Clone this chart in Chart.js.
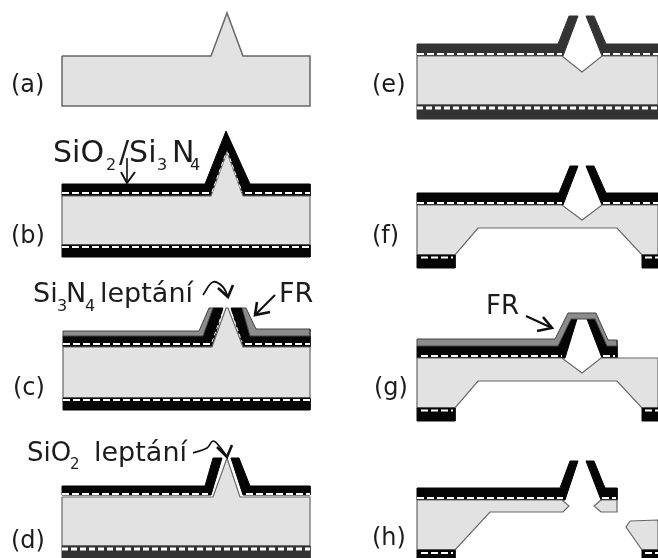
<!DOCTYPE html>
<html>
<head>
<meta charset="utf-8">
<script src="https://cdn.jsdelivr.net/npm/chart.js@4"></script>
<style>
html, body { margin: 0; padding: 0; background: #fff; overflow: hidden; }
canvas { display: block; filter: blur(0.4px); }
</style>
</head>
<body>
<canvas id="c" width="658" height="558"></canvas>
<script>
// all points are [x, y] in picture units, the scales run 0-658 and 0-558

// (a)
const aBody = [[62,56],[211,56],[227,13],[243,56],[310,56],[310,106],[62,106]];

// (b)
const bOxide = [[62,184],[205,184],[226,131],[250,184],[310,184],[310,196],[243,196],[227,150],[211,196],[62,196]];
const bBody = [[62,196],[211,196],[227,152],[243,196],[310,196],[310,245],[62,245]];
const bDashL = [[62,193],[209,193]];
const bDashPeak = [[212,192],[226,153],[228,153],[242,192]];
const bDashR = [[245,193],[310,193]];
const bOxideLow = [[62,245],[310,245],[310,257],[62,257]];
const bDashLow = [[62,247],[310,247]];

// (c)
const cOxideL = [[63,336],[202,336],[213,308],[223,308],[212,347],[63,347]];
const cOxideR = [[231,308],[242,308],[250,336],[310,336],[310,347],[243,347]];
const cResistL = [[63,331],[199,331],[209,308],[213,308],[203,336],[63,336]];
const cResistR = [[242,308],[246,308],[256,329],[310,329],[310,336],[250,336]];
const cBody = [[63,347],[212,347],[226,308],[228,308],[243,347],[310,347],[310,398],[63,398]];
const cDashL = [[63,344],[210,344]];
const cSlopeL = [[212,342],[222,314]];
const cSlopeR = [[232,314],[242,342]];
const cDashR = [[245,344],[310,344]];
const cOxideLow = [[63,398],[310,398],[310,410],[63,410]];
const cDashLow = [[63,400],[310,400]];

// (d)
const dOxideL = [[62,486],[205,486],[213,458],[222,458],[211,495],[62,495]];
const dOxideR = [[231,458],[239,458],[250,486],[310,486],[310,495],[243,495]];
const dBody = [[62,497],[213,497],[227,458],[240,497],[310,497],[310,546],[62,546]];
const dDashTop = [[62,494],[208,494]];
const dDashTopR = [[246,494],[310,494]];
const dOxideLow = [[62,546],[310,546],[310,558],[62,558]];
const dDashLow = [[62,549],[310,549]];

// (e)
const eOxideL = [[417,44],[558,44],[569,16],[578,16],[563,56],[417,56]];
const eOxideR = [[586,16],[594,16],[606,44],[658,44],[658,56],[602,56]];
const eBody = [[417,56],[562,56],[582,72],[602,56],[658,56],[658,105],[417,105]];
const eDashL = [[417,54],[562,54]];
const eDashR = [[603,54],[658,54]];
const eOxideLow = [[417,105],[658,105],[658,119],[417,119]];
const eDashLow = [[417,108],[658,108]];

// (f)
const fOxideL = [[417,193],[559,193],[570,166],[578,166],[563,205],[417,205]];
const fOxideR = [[586,166],[594,166],[606,193],[658,193],[658,205],[602,205]];
const fBody = [[417,205],[562,205],[582,220],[602,205],[658,205],[658,255],[642,255],[617,228],[478,228],[455,255],[417,255]];
const fDashL = [[417,203],[562,203]];
const fDashR = [[603,203],[658,203]];
const fFootL = [[417,255],[455,255],[455,268],[417,268]];
const fFootR = [[642,255],[658,255],[658,268],[642,268]];
const fDashFootL = [[421,257.5],[453,257.5]];
const fDashFootR = [[645,257.5],[658,257.5]];

// (g)
const gOxideL = [[417,346],[558,346],[571,319],[577,319],[565,358],[417,358]];
const gOxideR = [[587,319],[595,319],[607,346],[617,346],[617,358],[602,358]];
const gResist = [[417,339],[555,339],[568,313],[596,313],[608,340],[617,340],[617,346],[607,346],[595,319],[571,319],[558,346],[417,346]];
const gBody = [[417,358],[562,358],[582,373],[601,358],[658,358],[658,408],[642,408],[617,381],[478,381],[455,408],[417,408]];
const gDashL = [[421,356],[562,356]];
const gDashR = [[603,356],[615,356]];
const gFootL = [[417,408],[455,408],[455,421],[417,421]];
const gFootR = [[642,408],[658,408],[658,421],[642,421]];
const gDashFootL = [[421,410.5],[453,410.5]];
const gDashFootR = [[645,410.5],[658,410.5]];

// (h)
const hOxideL = [[417,488],[560,488],[570,461],[578,461],[565,500],[417,500]];
const hOxideR = [[586,461],[594,461],[605,488],[617,488],[617,500],[601,500]];
const hBodyL = [[417,500],[562,500],[569,506],[563,512],[490,512],[455,550],[417,550]];
const hBodyM = [[601,500],[617,500],[617,512],[601,512],[594,506]];
const hBodyR = [[630,521],[658,520],[658,550],[642,550],[626,527]];
const hDashL = [[417,498],[563,498]];
const hDashR = [[602,498],[616,498]];
const hFootL = [[417,550],[455,550],[455,558],[417,558]];
const hFootR = [[642,550],[658,550],[658,558],[642,558]];
const hDashFootL = [[421,553],[453,553]];
const hDashFootR = [[645,553],[658,553]];

// arrows
const arrowB = [[127,158],[127,183]];
const arrowBHead = [[121,172],[127,183],[135,172]];
const arrowCFr = [[275,295],[255,315]];
const arrowCFrHead = [[257,302],[255,315],[270,312]];
const arrowCEtch = [[203,295],[213,282],[223,287],[228,297]];
const arrowCEtchHead = [[218,288],[228,297],[233,285]];
const arrowDEtch = [[193,453],[207,448],[213,441],[220,447],[227,457]];
const arrowDEtchHead = [[217,447],[227,457],[232,445]];
const arrowGFr = [[526,316],[552,328]];
const arrowGFrHead = [[543,317],[552,328],[537,331]];

// text, x, baseline y, size
const labels = [
  ['(a)', 11, 92, 24], ['(b)', 11, 243, 24], ['(c)', 13, 395, 24], ['(d)', 11, 548, 24],
  ['(e)', 372, 92, 24], ['(f)', 372, 243, 24], ['(g)', 374, 395, 24], ['(h)', 372, 545, 24],
  ['SiO', 53, 162, 30], ['2', 106, 170, 16], ['/Si', 119, 162, 30], ['3', 157, 170, 16], ['N', 172, 162, 30], ['4', 190, 170, 16],
  ['Si', 33, 302, 27], ['3', 57, 311, 16], ['N', 66, 302, 27], ['4', 85, 311, 16], ['leptání', 100, 302, 27],
  ['FR', 279, 302, 27],
  ['SiO', 27, 461, 26], ['2', 70, 469, 15], ['leptání', 94, 461, 27],
  ['FR', 486, 314, 26]
];

const BODY = '#e2e2e2', EDGE = '#666', BLACK = '#050505', DARK = '#333', RESIST = '#8c8c8c';
const layers = [];

const shape = (pts, fillCol, edgeCol = fillCol, w = 1) => layers.push({
  data: pts.concat([pts[0]]).map(([x, y]) => ({ x, y })),
  showLine: true, fill: 'shape', backgroundColor: fillCol, borderColor: edgeCol, borderWidth: w,
  pointRadius: 0, tension: 0
});
const dash = (pts, w = 2, d = [7, 3]) => layers.push({
  data: pts.map(([x, y]) => ({ x, y })),
  showLine: true, fill: false, borderColor: '#fff', borderWidth: w, borderDash: d,
  pointRadius: 0, tension: 0
});
const stroke = (pts, w = 2, tension = 0) => layers.push({
  data: pts.map(([x, y]) => ({ x, y })),
  showLine: true, fill: false, borderColor: '#111', borderWidth: w,
  pointRadius: 0, tension
});

shape(aBody, BODY, EDGE, 1.5);

shape(bOxide, BLACK);
shape(bBody, BODY, EDGE, 1.2);
dash(bDashL); dash(bDashR); dash(bDashPeak, 1, [4, 3]);
shape(bOxideLow, BLACK);
dash(bDashLow);

shape(cOxideL, BLACK); shape(cOxideR, BLACK);
shape(cBody, BODY, EDGE, 1.2);
shape(cResistL, RESIST, '#444', 1); shape(cResistR, RESIST, '#444', 1);
dash(cDashL); dash(cDashR);
dash(cSlopeL, 1, [4, 3]); dash(cSlopeR, 1, [4, 3]);
shape(cOxideLow, BLACK);
dash(cDashLow);

shape(dOxideL, BLACK); shape(dOxideR, BLACK);
shape(dBody, BODY, EDGE, 1.2);
dash(dDashTop); dash(dDashTopR);
shape(dOxideLow, DARK);
dash(dDashLow, 3, [6, 3]);

shape(eOxideL, DARK); shape(eOxideR, DARK);
shape(eBody, BODY, EDGE, 1.2);
dash(eDashL); dash(eDashR);
shape(eOxideLow, DARK);
dash(eDashLow, 3, [6, 3]);

shape(fOxideL, BLACK); shape(fOxideR, BLACK);
shape(fBody, BODY, EDGE, 1.2);
dash(fDashL); dash(fDashR);
shape(fFootL, BLACK); shape(fFootR, BLACK);
dash(fDashFootL); dash(fDashFootR);

shape(gOxideL, BLACK); shape(gOxideR, BLACK);
shape(gResist, RESIST, '#444', 1);
shape(gBody, BODY, EDGE, 1.2);
dash(gDashL); dash(gDashR);
shape(gFootL, BLACK); shape(gFootR, BLACK);
dash(gDashFootL); dash(gDashFootR);

shape(hOxideL, BLACK); shape(hOxideR, BLACK);
shape(hBodyL, BODY, EDGE, 1.2); shape(hBodyM, BODY, EDGE, 1.2); shape(hBodyR, BODY, EDGE, 1.2);
dash(hDashL); dash(hDashR);
shape(hFootL, BLACK); shape(hFootR, BLACK);
dash(hDashFootL); dash(hDashFootR);

stroke(arrowB, 1.6); stroke(arrowBHead, 2);
stroke(arrowCFr, 2.2); stroke(arrowCFrHead, 2.6);
stroke(arrowCEtch, 1.8, 0.4); stroke(arrowCEtchHead, 2.6);
stroke(arrowDEtch, 1.6, 0.4); stroke(arrowDEtchHead, 2.6);
stroke(arrowGFr, 2.2); stroke(arrowGFrHead, 2.6);

// chart.js paints the first dataset last, so flip the list
layers.reverse();

const textPlugin = {
  id: 'textLabels',
  afterDatasetsDraw(chart) {
    const { ctx, scales } = chart;
    ctx.save();
    ctx.fillStyle = '#1c1c1c';
    ctx.textBaseline = 'alphabetic';
    labels.forEach(([t, x, y, size]) => {
      ctx.font = size + 'px "DejaVu Sans"';
      ctx.fillText(t, scales.x.getPixelForValue(x), scales.y.getPixelForValue(y));
    });
    ctx.restore();
  }
};

new Chart(document.getElementById('c').getContext('2d'), {
  type: 'scatter',
  data: { datasets: layers },
  options: {
    responsive: false,
    animation: false,
    layout: { padding: 0 },
    plugins: { legend: { display: false }, tooltip: { enabled: false } },
    scales: {
      x: { type: 'linear', display: false, min: 0, max: 658 },
      y: { type: 'linear', display: false, min: 0, max: 558, reverse: true }
    }
  },
  plugins: [textPlugin]
});
</script>
</body>
</html>
